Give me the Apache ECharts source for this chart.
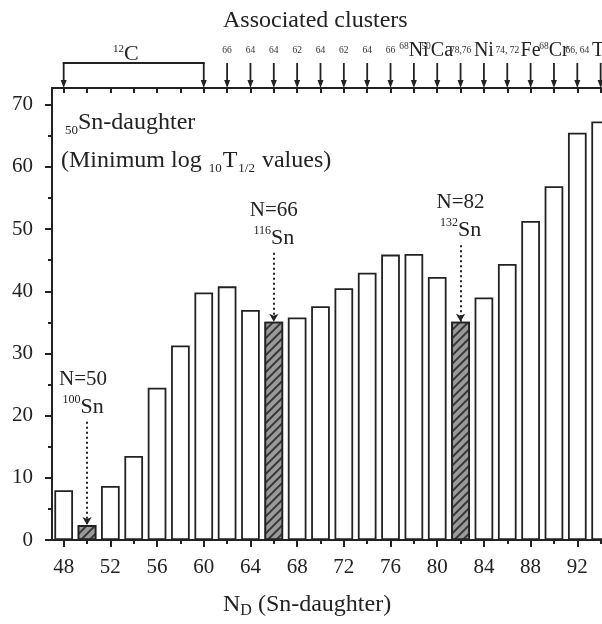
<!DOCTYPE html>
<html><head><meta charset="utf-8">
<script src="https://cdn.jsdelivr.net/npm/echarts@6/dist/echarts.min.js"></script>
<style>html,body{margin:0;padding:0;background:#fff}#c{width:602px;height:624px}</style>
</head><body><div id="c"></div>
<script>
// ---- data ----
const nDaughter = [48,50,52,54,56,58,60,62,64,66,68,70,72,74,76,78,80,82,84,86,88,90,92,94];
const minLogT = [8.0,2.4,8.7,13.5,24.5,31.3,39.8,40.8,37.0,35.1,35.8,37.6,40.5,43.0,45.9,46.0,42.3,35.1,39.0,44.4,51.3,56.9,65.5,67.3];
const magicN = [50,66,82];
const magicLabel = ['N=50','N=66','N=82'];
const magicIso = ['100','116','132'];
const xMajorTicks = [48,52,56,60,64,68,72,76,80,84,88,92,96];
const xMinorTicks = [50,54,58,62,66,70,74,78,82,86,90,94];
const topTicks = [48,50,52,54,56,58,60,62,64,66,68,70,72,74,76,78,80,82,84,86,88,90,92,94,96];
const yMajorTicks = [0,10,20,30,40,50,60,70];
const yMinorTicks = [5,15,25,35,45,55,65];
const clusterPos  = [62,64,66,68,70,72,74,76,78,80,82,84,86,88,90,92,94];
const clusterMass = ['66','64','64','62','64','62','64','66','68','50','78,76','','74, 72','','68','66, 64',''];
const clusterElem = ['','','','','','','','','Ni','Ca','','Ni','','Fe','Cr','','Ti'];
const bracketRange = [48,60];
const bracketMass = '12';
const bracketElem = 'C';

// ---- chart ----
const FONT = 'Liberation Serif';
const INK = '#222';
const X_MIN = 47, X_MAX = 96, Y_MAX = 72.7;
const chart = echarts.init(document.getElementById('c'), null, {renderer:'canvas'});

const hatch = {
  symbol:'rect', symbolSize:1, color:'rgba(30,30,30,0.8)', backgroundColor:'#9a9a9a',
  dashArrayX:[1,0], dashArrayY:[1.4,4], rotation:-Math.PI/4
};
const barData = nDaughter.map((n,i)=>{
  const d = {value:[n, minLogT[i]]};
  if (magicN.indexOf(n) >= 0) d.itemStyle = {color:'#9a9a9a', decal:hatch};
  return d;
});
const annStart = {50:19.0, 66:46.2, 82:47.4};
const valueOf = n => minLogT[nDaughter.indexOf(n)];

const mlData = magicN.map(n => [
  {coord:[n, annStart[n]]},
  {coord:[n, valueOf(n)]}
]);
const mpData = magicN.map((n,i)=>({
  coord:[n, annStart[n]],
  symbol:'circle', symbolSize:0,
  label:{show:true, position:'top', distance:2, offset:[n===50?-4:0,0],
    formatter:'{a|'+magicLabel[i]+'}\n{s|'+magicIso[i]+'}{b|Sn}'}
}));

const clusterData = clusterPos.map((p,i)=>[p, 0]);

function arrowGroup(api, x, withText, mass, elem){
  const top = api.coord([x,1]);
  const bot = api.coord([x,0]);
  const ch = [
    {type:'line', shape:{x1:top[0],y1:top[1],x2:bot[0],y2:bot[1]-5}, style:{stroke:INK, lineWidth:1.8}},
    {type:'polygon', shape:{points:[[bot[0]-3,bot[1]-8],[bot[0]+3,bot[1]-8],[bot[0],bot[1]]]}, style:{fill:INK}}
  ];
  if (withText){
    const txt = elem ? ((mass?'{m|'+mass+'}':'')+'{e|'+elem+'}') : '{m2|'+mass+'}';
    ch.push({type:'text', style:{text:txt, x:top[0], y:top[1]-2, align:'center', verticalAlign:'bottom',
      fill:INK, rich:{
        m:{fontFamily:FONT, fontSize:9.5, lineHeight:6, verticalAlign:'top', fill:'#333'},
        m2:{fontFamily:FONT, fontSize:9.5, lineHeight:20, verticalAlign:'middle', fill:'#333', padding:[0,0,2,0]},
        e:{fontFamily:FONT, fontSize:20, lineHeight:20, fill:INK}
      }}});
  }
  return ch;
}

const tS = (size, extra) => Object.assign({fontFamily:FONT, fontSize:size, fontWeight:'normal', color:INK}, extra||{});

const option = {
  animation:false,
  backgroundColor:'#fff',
  title:[
    {text:'Associated clusters', left:218, top:4, textStyle:tS(24)},
    {text:'{s|50}{t|Sn-daughter}', left:60, top:104, textStyle:{fontWeight:'normal', rich:{
      s:tS(13,{lineHeight:6, verticalAlign:'bottom'}),
      t:tS(24,{lineHeight:28})}}},
    {text:'{t|(Minimum log }{s|10}{t|T}{s|1/2}{t| values)}', left:56, top:142, textStyle:{fontWeight:'normal', rich:{
      s:tS(13,{lineHeight:6, verticalAlign:'bottom', padding:[0,1,0,1]}),
      t:tS(24,{lineHeight:28})}}},
    {text:'{t|N}{s|D}{t| (Sn-daughter)}', left:218, top:586, textStyle:{fontWeight:'normal', rich:{
      s:tS(16,{lineHeight:2, verticalAlign:'bottom'}),
      t:tS(24,{lineHeight:28})}}}
  ],
  grid:[
    {left:52, top:88, width:572, height:452, containLabel:false, outerBoundsMode:'none'},
    {left:52, top:63, width:572, height:25, outerBoundsMode:'none'}
  ],
  xAxis:[
    {type:'value', gridIndex:0, min:X_MIN, max:X_MAX, position:'bottom',
      axisLine:{lineStyle:{color:INK, width:2}},
      axisTick:{show:true, customValues:xMajorTicks, length:7, lineStyle:{color:INK, width:2}},
      axisLabel:{customValues:xMajorTicks, margin:17, fontFamily:FONT, fontSize:21, color:INK},
      splitLine:{show:false}},
    {type:'value', gridIndex:0, min:X_MIN, max:X_MAX, position:'bottom',
      axisLine:{show:false},
      axisTick:{show:true, customValues:xMinorTicks, length:4, lineStyle:{color:INK, width:2}},
      axisLabel:{show:false}, splitLine:{show:false}},
    {type:'value', gridIndex:0, min:X_MIN, max:X_MAX, position:'top',
      axisLine:{lineStyle:{color:INK, width:2}},
      axisTick:{show:true, inside:true, customValues:topTicks, length:5, lineStyle:{color:INK, width:2}},
      axisLabel:{show:false}, splitLine:{show:false}},
    {type:'value', gridIndex:1, min:X_MIN, max:X_MAX, show:false}
  ],
  yAxis:[
    {type:'value', gridIndex:0, min:0, max:Y_MAX,
      axisLine:{show:true, lineStyle:{color:INK, width:2}},
      axisTick:{show:true, customValues:yMajorTicks, length:7, lineStyle:{color:INK, width:2}},
      axisLabel:{customValues:yMajorTicks, margin:19, fontFamily:FONT, fontSize:21, color:INK},
      splitLine:{show:false}},
    {type:'value', gridIndex:0, min:0, max:Y_MAX,
      axisLine:{show:false},
      axisTick:{show:true, customValues:yMinorTicks, length:4, lineStyle:{color:INK, width:2}},
      axisLabel:{show:false}, splitLine:{show:false}, position:'left'},
    {type:'value', gridIndex:1, min:0, max:1, show:false}
  ],
  series:[
    {type:'bar', xAxisIndex:0, yAxisIndex:0, barWidth:'80%', data:barData,
      itemStyle:{color:'#fff', borderColor:INK, borderWidth:1.8},
      markLine:{silent:true, symbol:['none','arrow'], symbolSize:[7,8], label:{show:false},
        lineStyle:{type:[2,3], color:INK, width:2}, data:mlData},
      markPoint:{silent:true, data:mpData,
        label:{rich:{
          a:tS(21,{lineHeight:29}),
          s:tS(12,{lineHeight:6, verticalAlign:'top'}),
          b:tS(22,{lineHeight:26})}}}
    },
    {type:'custom', xAxisIndex:3, yAxisIndex:2, data:clusterData,
      renderItem:(params, api)=>({type:'group', children:arrowGroup(api, api.value(0), true, clusterMass[params.dataIndex], clusterElem[params.dataIndex])})
    },
    {type:'custom', xAxisIndex:3, yAxisIndex:2, data:[[bracketRange[0], bracketRange[1]]],
      renderItem:(params, api)=>{
        const a = api.value(0), b = api.value(1);
        const pa = api.coord([a,1]), pb = api.coord([b,1]);
        const ch = arrowGroup(api, a, false).concat(arrowGroup(api, b, false));
        ch.push({type:'line', shape:{x1:pa[0]-1,y1:pa[1],x2:pb[0]+1,y2:pb[1]}, style:{stroke:INK, lineWidth:1.8}});
        ch.push({type:'text', style:{text:'{m|'+bracketMass+'}{e|'+bracketElem+'}', x:(pa[0]+pb[0])/2-8, y:pa[1]+1, align:'center', verticalAlign:'bottom',
          rich:{m:{fontFamily:FONT, fontSize:11, lineHeight:6, verticalAlign:'top', fill:INK},
                e:{fontFamily:FONT, fontSize:22, lineHeight:20, fill:INK}}}});
        return {type:'group', children:ch};
      }
    }
  ]
};
chart.setOption(option);
</script></body></html>
